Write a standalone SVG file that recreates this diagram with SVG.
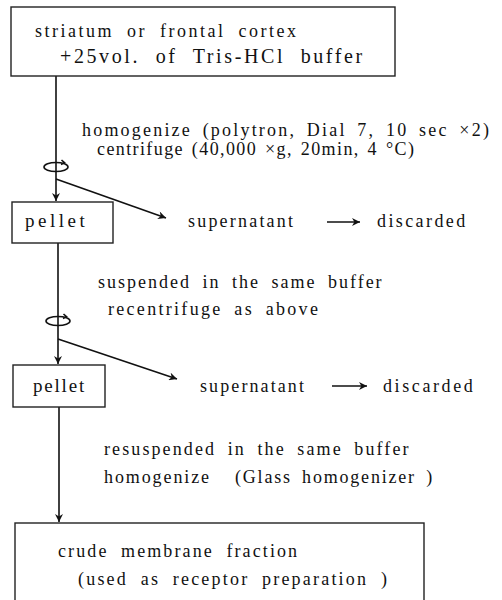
<svg xmlns="http://www.w3.org/2000/svg" width="502" height="600" viewBox="0 0 502 600">
<style>
  .box { fill: #fff; stroke: #222; stroke-width: 1.4; }
  .ln { fill: none; stroke: #111; stroke-width: 1.6; }
  .sym { fill: none; stroke: #111; stroke-width: 1.6; }
  text { font-family: "Liberation Serif", "DejaVu Serif", serif; font-size: 18px; fill: #111; }
</style>
<defs>
  <marker id="ah" viewBox="0 0 10 10" refX="10" refY="5" markerWidth="9" markerHeight="8" markerUnits="userSpaceOnUse" orient="auto">
    <path d="M0,0 L10,5 L0,10 L3,5 Z" fill="#111"/>
  </marker>
</defs>
<rect width="502" height="600" fill="#fff"/>

<g id="connectors">
  <line class="ln" x1="56" y1="76" x2="56" y2="201" marker-end="url(#ah)"/>
  <line class="ln" x1="56" y1="179" x2="166" y2="218" marker-end="url(#ah)"/>
  <line class="ln" x1="58" y1="243" x2="58" y2="364" marker-end="url(#ah)"/>
  <line class="ln" x1="58" y1="339" x2="177" y2="379" marker-end="url(#ah)"/>
  <line class="ln" x1="59" y1="407" x2="59" y2="522" marker-end="url(#ah)"/>
  <line class="ln" x1="327" y1="222" x2="360" y2="222" marker-end="url(#ah)" style="stroke-width:1.3"/>
  <line class="ln" x1="332" y1="386" x2="367" y2="386" marker-end="url(#ah)" style="stroke-width:1.3"/>
  <g id="centrifuge1">
    <ellipse class="sym" cx="56" cy="167" rx="12" ry="4.5"/>
    <path class="sym" d="M61.5,160 L64.5,162.6 L61,164.5"/>
  </g>
  <g id="centrifuge2">
    <ellipse class="sym" cx="58" cy="321" rx="12" ry="4.5"/>
    <path class="sym" d="M63.5,314 L66.5,316.6 L63,318.5"/>
  </g>
</g>

<g id="start">
  <rect class="box" x="11" y="7" width="384" height="69"/>
  <text x="35" y="37" letter-spacing="2.5" word-spacing="6">striatum or frontal cortex</text>
  <text x="60" y="63" style="font-size:20px" letter-spacing="2.6" word-spacing="8">+25vol. of Tris-HCl buffer</text>
</g>

<g id="step1">
  <text x="82" y="136" letter-spacing="2.2" word-spacing="4">homogenize (polytron, Dial 7, 10 sec ×2)</text>
  <text x="97" y="155" letter-spacing="1.4" word-spacing="2">centrifuge (40,000 ×g, 20min, 4 °C)</text>
</g>

<g id="pellet1">
  <rect class="box" x="12" y="202" width="101" height="41"/>
  <text x="25" y="227" style="font-size:19px" letter-spacing="3.5">pellet</text>
</g>
<g id="supernatant1">
  <text x="188" y="227" letter-spacing="2.2">supernatant</text>
</g>
<g id="discarded1">
  <text x="377" y="227" letter-spacing="2.4">discarded</text>
</g>

<g id="step2">
  <text x="98" y="288" letter-spacing="2" word-spacing="5">suspended in the same buffer</text>
  <text x="108" y="315" letter-spacing="2.3" word-spacing="5">recentrifuge as above</text>
</g>

<g id="pellet2">
  <rect class="box" x="13" y="365" width="92" height="42"/>
  <text x="33" y="392" style="font-size:19px" letter-spacing="1.8">pellet</text>
</g>
<g id="supernatant2">
  <text x="200" y="392" letter-spacing="2.1">supernatant</text>
</g>
<g id="discarded2">
  <text x="383" y="392" letter-spacing="2.6">discarded</text>
</g>

<g id="step3">
  <text x="104" y="455" letter-spacing="2.1" word-spacing="5">resuspended in the same buffer</text>
  <text x="104" y="483" letter-spacing="1.9">homogenize<tspan x="235" letter-spacing="1.8" word-spacing="4">(Glass homogenizer )</tspan></text>
</g>

<g id="final">
  <rect class="box" x="15" y="523" width="409" height="90"/>
  <text x="58" y="557" letter-spacing="2.1" word-spacing="6">crude membrane fraction</text>
  <text x="78" y="585" letter-spacing="2.2" word-spacing="6">(used as receptor preparation )</text>
</g>
</svg>
